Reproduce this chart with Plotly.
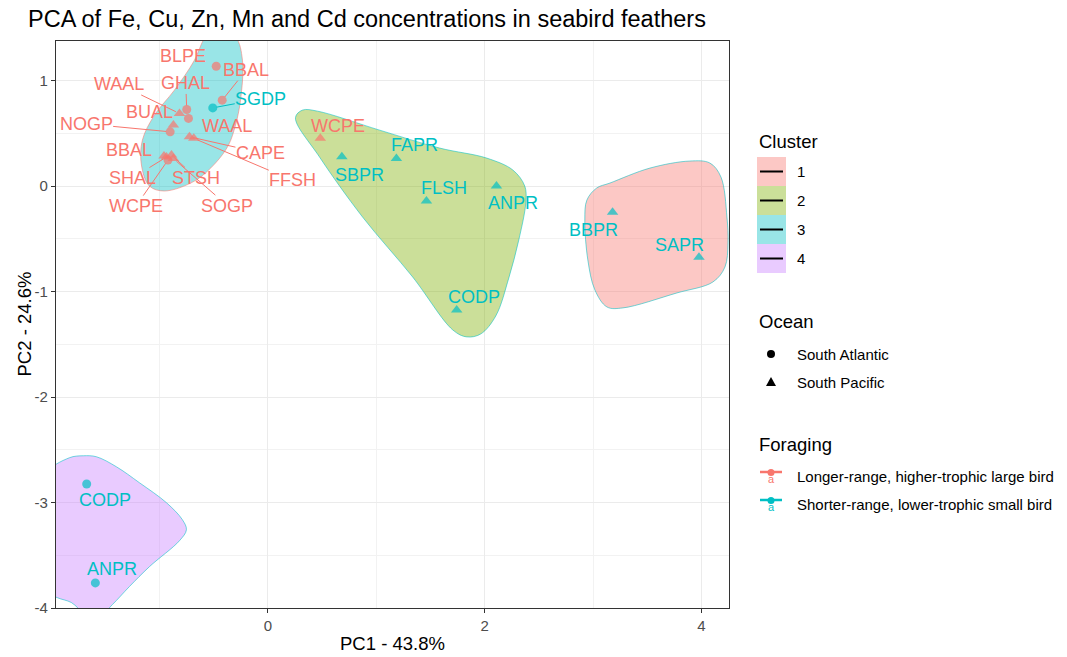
import plotly.graph_objects as go

# ---- species-level PCA scores -------------------------------------------
species = ["BLPE", "BBAL", "SGDP", "GHAL", "WAAL", "WAAL", "BUAL", "NOGP",
           "CAPE", "FFSH", "BBAL", "SHAL", "WCPE", "STSH", "SOGP",
           "WCPE", "SBPR", "FAPR", "FLSH", "ANPR", "CODP",
           "BBPR", "SAPR",
           "CODP", "ANPR"]
pc1 = [-0.476, -0.421, -0.508, -0.748, -0.732, -0.815, -0.871, -0.901,
       -0.723, -0.683, -0.958, -0.935, -0.921, -0.889, -0.871,
       0.484, 0.683, 1.186, 1.463, 2.109, 1.742,
       3.180, 3.977,
       -1.671, -1.591]
pc2 = [1.136, 0.814, 0.741, 0.726, 0.641, 0.688, 0.578, 0.514,
       0.467, 0.452, 0.284, 0.275, 0.246, 0.294, 0.260,
       0.452, 0.277, 0.262, -0.142, 0.000, -1.174,
       -0.249, -0.675,
       -2.825, -3.762]
ocean = ["South Atlantic", "South Atlantic", "South Atlantic", "South Atlantic",
         "South Atlantic", "South Pacific", "South Pacific", "South Atlantic",
         "South Pacific", "South Pacific", "South Pacific", "South Pacific",
         "South Atlantic", "South Pacific", "South Pacific",
         "South Pacific", "South Pacific", "South Pacific", "South Pacific",
         "South Pacific", "South Pacific",
         "South Pacific", "South Pacific",
         "South Atlantic", "South Atlantic"]
LONG = "Longer-range, higher-trophic large bird"
SHORT = "Shorter-range, lower-trophic small bird"
foraging = [LONG, LONG, SHORT, LONG, LONG, LONG, LONG, LONG,
            LONG, LONG, LONG, LONG, LONG, LONG, LONG,
            LONG, SHORT, SHORT, SHORT, SHORT, SHORT,
            SHORT, SHORT,
            SHORT, SHORT]
cluster = ["3"] * 15 + ["2"] * 6 + ["1"] * 2 + ["4"] * 2

# ---- cluster hull outlines (PC1 / PC2) -----------------------------------
hull1_pc1 = [3.033, 3.155, 3.524, 3.893, 4.078, 4.180, 4.235, 4.245, 4.217,
             4.106, 3.774, 3.276, 3.128, 3.017, 2.952, 2.924, 2.943]
hull1_pc2 = [-0.019, 0.028, 0.170, 0.237, 0.218, 0.085, -0.294, -0.540, -0.767,
             -0.909, -1.013, -1.155, -1.146, -0.985, -0.701, -0.322, -0.133]

hull2_pc1 = [0.255, 0.320, 0.458, 1.031, 1.585, 2.019, 2.260, 2.370, 2.380,
             2.315, 2.223, 2.103, 1.964, 1.835, 1.706, 1.336, 0.874, 0.477]
hull2_pc2 = [0.648, 0.720, 0.710, 0.530, 0.360, 0.265, 0.152, 0.000, -0.152,
             -0.511, -0.871, -1.231, -1.402, -1.430, -1.364, -0.862, -0.294, 0.275]

hull3_pc1 = [-0.492, -0.298, -0.234, -0.252, -0.298, -0.363, -0.483, -0.677,
             -0.954, -1.092, -1.166, -1.157, -1.046, -0.862, -0.677, -0.584]
hull3_pc2 = [1.496, 1.411, 1.193, 0.814, 0.578, 0.388, 0.218, 0.047,
             -0.047, 0.000, 0.199, 0.436, 0.672, 0.909, 1.193, 1.402]

hull4_pc1 = [-1.831, -1.702, -1.582, -1.397, -1.185, -0.935, -0.788, -0.751,
             -0.815, -1.092, -1.277, -1.434, -1.527, -1.693, -1.813, -1.942,
             -2.062, -2.108, -2.062]
hull4_pc2 = [-2.576, -2.557, -2.566, -2.661, -2.812, -3.002, -3.163, -3.258,
             -3.362, -3.608, -3.797, -3.968, -4.053, -4.043, -3.948, -3.902,
             -3.835, -3.362, -2.746]

cluster_levels = ["1", "2", "3", "4"]
x_ticks = [0, 2, 4]
y_ticks = [1, 0, -1, -2, -3, -4]

# ---- styling ---------------------------------------------------------------
FONT = "Liberation Sans, Arial, sans-serif"
FORAGING_COLORS = {LONG: "#F8766D", SHORT: "#00BFC4"}
CLUSTER_FILL = {"1": "rgba(248,118,109,0.4)", "2": "rgba(124,174,0,0.4)",
                "3": "rgba(0,191,196,0.4)", "4": "rgba(199,124,255,0.4)"}
HULL_LINE = {"1": "rgba(0,191,196,0.55)", "2": "rgba(0,191,196,0.55)",
             "3": "rgba(248,118,109,0.55)", "4": "rgba(0,191,196,0.55)"}
SYMBOLS = {"South Atlantic": "circle", "South Pacific": "triangle-up"}
SIZES = {"South Atlantic": 9, "South Pacific": 10}

# label placement: pixel offset of label centre from its point, and whether
# a connector segment is drawn
label_dx = [-33, 24, 48, -1, 39, -60, -24, -84, 71, 99, -35, -34, -32, 25, 54,
            18, 18, 18, 18, 17, 17, -19, -19, 18, 17]
label_dy = [-10, -30, -9, -26, 8, -29, -13, -8, 16, 42, -6, 21, 46, 23, 47,
            -12, 18, -13, -13, 17, -13, 18, -12, 16, -14]
label_seg = [False, True, True, True, False, True, False, True, True, True,
             False, True, True, True, True,
             False, False, False, False, False, False, False, False, False, False]

X_RANGE = [-1.954, 4.254]
Y_RANGE = [-4.0, 1.375]

W, H = 1067, 657
L, R, T, B = 56, 338, 41, 49
PW, PH = W - L - R, H - T - B


def px(x):
    return (x - L) / PW


def py(y):
    return (H - B - y) / PH


fig = go.Figure()

hulls = {"1": (hull1_pc1, hull1_pc2), "2": (hull2_pc1, hull2_pc2),
         "3": (hull3_pc1, hull3_pc2), "4": (hull4_pc1, hull4_pc2)}
for k in cluster_levels:
    hx, hy = hulls[k]
    fig.add_trace(go.Scatter(
        x=list(hx) + [hx[0]], y=list(hy) + [hy[0]],
        mode="lines", fill="toself", fillcolor=CLUSTER_FILL[k],
        line=dict(color=HULL_LINE[k], width=1, shape="spline", smoothing=1.0),
        hoverinfo="skip", showlegend=False))

fig.add_trace(go.Scatter(
    x=pc1, y=pc2, mode="markers",
    marker=dict(symbol=[SYMBOLS[o] for o in ocean],
                size=[SIZES[o] for o in ocean],
                color=[FORAGING_COLORS[f] for f in foraging],
                line=dict(width=0)),
    text=species, hoverinfo="text", showlegend=False))

annotations = []
for name, x, y, f, dx, dy, seg in zip(species, pc1, pc2, foraging,
                                      label_dx, label_dy, label_seg):
    col = FORAGING_COLORS[f]
    if seg:
        annotations.append(dict(
            x=x, y=y, xref="x", yref="y", text=name, showarrow=True,
            ax=dx, ay=dy, arrowhead=0, arrowwidth=1, arrowcolor=col,
            standoff=4, borderpad=0,
            font=dict(family=FONT, size=18, color=col)))
    else:
        annotations.append(dict(
            x=x, y=y, xref="x", yref="y", text=name, showarrow=False,
            xshift=dx, yshift=-dy,
            font=dict(family=FONT, size=18, color=col)))

# axis titles
annotations.append(dict(x=0.5, y=py(643), xref="paper", yref="paper",
                        xanchor="center", yanchor="middle",
                        text="PC1 - 43.8%", showarrow=False,
                        font=dict(family=FONT, size=18.5, color="black")))
annotations.append(dict(x=px(24), y=0.5, xref="paper", yref="paper",
                        xanchor="center", yanchor="middle",
                        text="PC2 - 24.6%", showarrow=False, textangle=-90,
                        font=dict(family=FONT, size=18.5, color="black")))

# ---- legends -----------------------------------------------------------------
shapes = []
LEG_X = 757


def legend_title(text, yc):
    annotations.append(dict(x=px(LEG_X), y=py(yc), xref="paper", yref="paper",
                            text=text, showarrow=False, xanchor="left",
                            yanchor="middle",
                            font=dict(family=FONT, size=18.5, color="black")))


def legend_label(text, yc):
    annotations.append(dict(x=px(795), y=py(yc), xref="paper", yref="paper",
                            text=text, showarrow=False, xanchor="left",
                            yanchor="middle",
                            font=dict(family=FONT, size=15, color="black")))


legend_title("Cluster", 141)
for i, k in enumerate(cluster_levels):
    y0 = 157 + 29 * i
    shapes.append(dict(type="rect", xref="paper", yref="paper",
                       x0=px(757), x1=px(786), y0=py(y0 + 29), y1=py(y0),
                       fillcolor=CLUSTER_FILL[k], line=dict(width=0)))
    shapes.append(dict(type="line", xref="paper", yref="paper",
                       x0=px(760), x1=px(783), y0=py(y0 + 14.5), y1=py(y0 + 14.5),
                       line=dict(color="black", width=2)))
    legend_label(k, y0 + 14.5)

legend_title("Ocean", 321)
ocean_rows = [("South Atlantic", 354), ("South Pacific", 382)]
for name, yc in ocean_rows:
    if name == "South Atlantic":
        r = 4
        shapes.append(dict(type="circle", xref="paper", yref="paper",
                           x0=px(771 - r), x1=px(771 + r),
                           y0=py(yc + r), y1=py(yc - r),
                           fillcolor="black", line=dict(width=0)))
    else:
        path = "M {},{} L {},{} L {},{} Z".format(
            px(766), py(yc + 4), px(776), py(yc + 4), px(771), py(yc - 5))
        shapes.append(dict(type="path", xref="paper", yref="paper", path=path,
                           fillcolor="black", line=dict(width=0)))
    legend_label(name, yc)

legend_title("Foraging", 444)
forage_rows = [(LONG, 476), (SHORT, 504)]
for name, yc in forage_rows:
    col = FORAGING_COLORS[name]
    shapes.append(dict(type="line", xref="paper", yref="paper",
                       x0=px(760), x1=px(782), y0=py(yc - 4), y1=py(yc - 4),
                       line=dict(color=col, width=2.5)))
    shapes.append(dict(type="circle", xref="paper", yref="paper",
                       x0=px(767.5), x1=px(774.5), y0=py(yc), y1=py(yc - 7),
                       fillcolor=col, line=dict(width=0)))
    annotations.append(dict(x=px(771), y=py(yc + 3), xref="paper", yref="paper",
                            xanchor="center", yanchor="middle",
                            text="a", showarrow=False,
                            font=dict(family=FONT, size=11, color=col)))
    legend_label(name, yc)

axis_common = dict(
    showline=True, mirror=True, linecolor="#333333", linewidth=1.3,
    ticks="outside", ticklen=4, tickwidth=1, tickcolor="#333333",
    showgrid=True, gridcolor="#EBEBEB", gridwidth=1.1, zeroline=False,
    tickfont=dict(family=FONT, size=15, color="#4D4D4D"),
)

fig.update_layout(
    width=W, height=H,
    margin=dict(l=L, r=R, t=T, b=B, autoexpand=False),
    paper_bgcolor="white", plot_bgcolor="white",
    title=dict(text="PCA of Fe, Cu, Zn, Mn and Cd concentrations in seabird feathers",
               x=28 / W, xanchor="left", xref="container",
               y=1 - 19 / H, yanchor="middle", yref="container",
               font=dict(family=FONT, size=23.5, color="black")),
    xaxis=dict(range=X_RANGE, tickvals=x_ticks, ticktext=[str(v) for v in x_ticks],
               minor=dict(showgrid=True, gridcolor="#F2F2F2", gridwidth=0.8,
                          tickvals=[-1, 1, 3], ticks=""),
               **axis_common),
    yaxis=dict(range=Y_RANGE, tickvals=y_ticks, ticktext=[str(v) for v in y_ticks],
               minor=dict(showgrid=True, gridcolor="#F2F2F2", gridwidth=0.8,
                          tickvals=[0.5, -0.5, -1.5, -2.5, -3.5], ticks=""),
               **axis_common),
    annotations=annotations,
    shapes=shapes,
    showlegend=False,
)

fig.write_html("out.html")
